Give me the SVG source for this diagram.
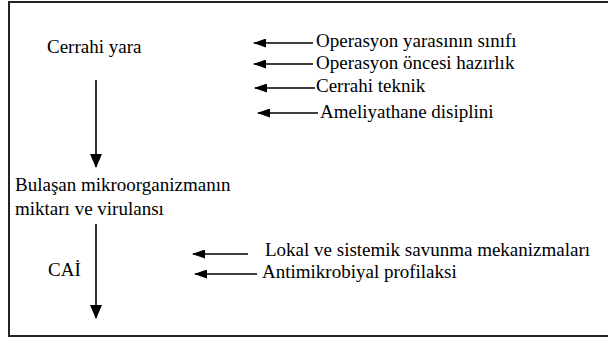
<svg xmlns="http://www.w3.org/2000/svg" width="608" height="339" viewBox="0 0 608 339">
<style>
text{font-family:'Liberation Serif','Times New Roman',Times,'DejaVu Serif',serif;font-size:19px;fill:#000}
.ln{stroke:#000;stroke-width:1.6;fill:none}
</style>
<defs>
<marker id="ah" markerWidth="13" markerHeight="9" refX="12" refY="4.5" orient="auto" markerUnits="userSpaceOnUse">
<path d="M0,0 L13,4.5 L0,9 Z" fill="#000"/>
</marker>
<marker id="ahv" markerWidth="14" markerHeight="14" refX="13" refY="6" orient="auto" markerUnits="userSpaceOnUse">
<path d="M0,0 L14,6 L0,12 Z" fill="#000"/>
</marker>
</defs>
<rect x="9" y="2" width="610" height="334" fill="#fff" stroke="#222" stroke-width="2"/>
<g id="n-cerrahi-yara"><text x="47" y="53">Cerrahi yara</text></g>
<g id="n-bulasan"><text x="15" y="191">Bulaşan mikroorganizmanın</text><text x="15" y="215">miktarı ve virulansı</text></g>
<g id="n-cai"><text x="48" y="276">CAİ</text></g>
<g id="n-f1"><text x="316" y="47">Operasyon yarasının sınıfı</text></g>
<g id="n-f2"><text x="316" y="69">Operasyon öncesi hazırlık</text></g>
<g id="n-f3"><text x="316" y="92">Cerrahi teknik</text></g>
<g id="n-f4"><text x="320" y="118">Ameliyathane disiplini</text></g>
<g id="n-f5"><text x="265" y="256">Lokal ve sistemik savunma mekanizmaları</text></g>
<g id="n-f6"><text x="262" y="278">Antimikrobiyal profilaksi</text></g>
<g id="connectors">
<line class="ln" x1="96" y1="80" x2="96" y2="167" marker-end="url(#ahv)"/>
<line class="ln" x1="96" y1="224" x2="96" y2="318" marker-end="url(#ahv)"/>
<line class="ln" x1="313" y1="43" x2="254" y2="43" marker-end="url(#ah)"/>
<line class="ln" x1="313" y1="64" x2="254" y2="64" marker-end="url(#ah)"/>
<line class="ln" x1="315" y1="88" x2="255" y2="88" marker-end="url(#ah)"/>
<line class="ln" x1="318" y1="113" x2="258" y2="113" marker-end="url(#ah)"/>
<line class="ln" x1="248" y1="254" x2="193" y2="254" marker-end="url(#ah)"/>
<line class="ln" x1="257" y1="274" x2="195" y2="274" marker-end="url(#ah)"/>
</g>
</svg>
